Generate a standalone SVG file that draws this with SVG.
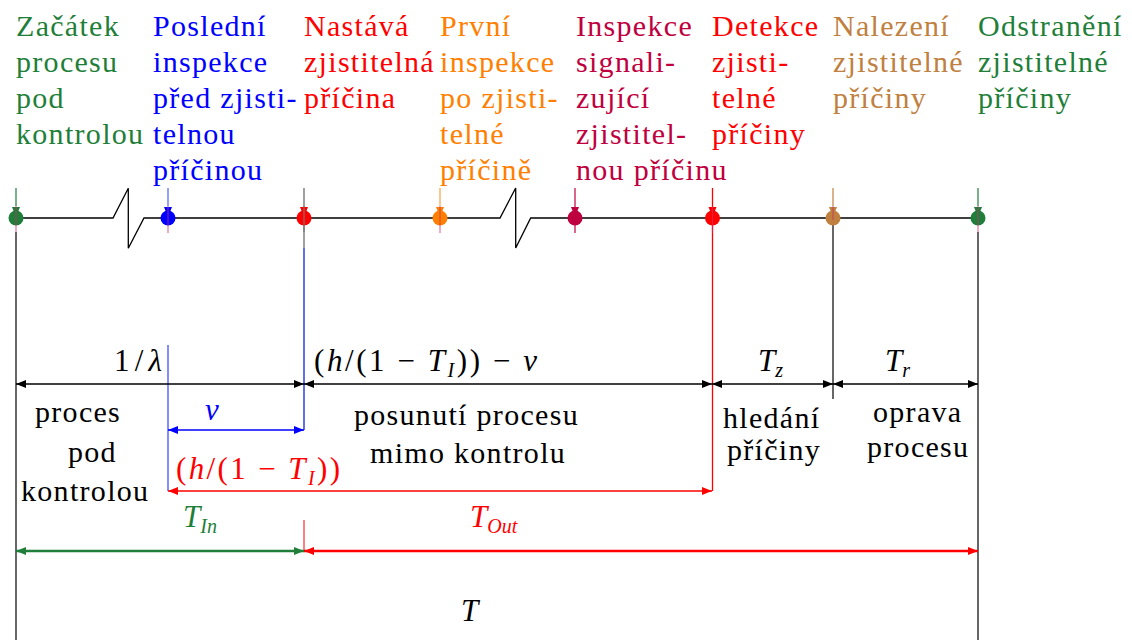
<svg xmlns="http://www.w3.org/2000/svg" width="1132" height="640" viewBox="0 0 1132 640">
<style>
.t{font-family:"Liberation Serif","Times New Roman",serif;font-size:30px;letter-spacing:1.3px}
.m{font-family:"Liberation Serif","Times New Roman",serif;font-size:31px}
.i{font-style:italic}
.sb{font-size:20px;font-style:italic}
.ln{fill:none;stroke-width:1.3}
.pin{stroke:#c8306a;stroke-width:1.2;opacity:0.65}
.green{fill:#1f7f3a}.blue{fill:#0000ff}.red{fill:#ff0000}.orange{fill:#ff8000}.purple{fill:#bf0040}.brown{fill:#bf8040}.black{fill:#000}
</style>
<defs>
<marker id="aK" markerUnits="userSpaceOnUse" markerWidth="11" markerHeight="9" refX="10" refY="4" orient="auto-start-reverse"><path d="M0,0 L10,4 L0,8 Z" fill="#000"/></marker>
<marker id="aB" markerUnits="userSpaceOnUse" markerWidth="11" markerHeight="9" refX="10" refY="4" orient="auto-start-reverse"><path d="M0,0 L10,4 L0,8 Z" fill="#0000ff"/></marker>
<marker id="aR" markerUnits="userSpaceOnUse" markerWidth="11" markerHeight="9" refX="10" refY="4" orient="auto-start-reverse"><path d="M0,0 L10,4 L0,8 Z" fill="#ff0000"/></marker>
<marker id="aG" markerUnits="userSpaceOnUse" markerWidth="11" markerHeight="9" refX="10" refY="4" orient="auto-start-reverse"><path d="M0,0 L10,4 L0,8 Z" fill="#1f7f3a"/></marker>
<g id="dot"><circle cx="0" cy="0" r="7.5"/><path d="M-4,-11 L4,-11 L2,-6 L-2,-6 Z"/></g>
</defs>

<g id="connectors">
  <path class="ln" stroke="#000" d="M16,218 H113 L128.3,188.3 V248.3 L144,218 H500 L515.7,188 V248 L530.7,218 H978"/>
  <line x1="16" y1="232" x2="16" y2="640" stroke="#000" stroke-width="1.2"/>
  <line x1="978" y1="232" x2="978" y2="640" stroke="#000" stroke-width="1.2"/>
  <line x1="833" y1="218" x2="833" y2="399" stroke="#000" stroke-width="1.2"/>
  <line x1="304" y1="188" x2="304" y2="248" stroke="#777" stroke-width="1.4"/>
  <line x1="304" y1="248" x2="304" y2="430" stroke="#2030e0" stroke-width="1.4"/>
  <line x1="168" y1="345" x2="168" y2="491" stroke="#4050ff" stroke-width="1.3"/>
  <line x1="712.5" y1="188" x2="712.5" y2="491" stroke="#ff0000" stroke-width="1.3"/>
  <line x1="304" y1="520" x2="304" y2="551" stroke="#ff0000" stroke-width="1"/>
  <line x1="16" y1="384" x2="304" y2="384" stroke="#000" stroke-width="1.3" marker-start="url(#aK)" marker-end="url(#aK)"/>
  <line x1="304" y1="384" x2="712" y2="384" stroke="#000" stroke-width="1.3" marker-start="url(#aK)" marker-end="url(#aK)"/>
  <line x1="712" y1="384" x2="833" y2="384" stroke="#000" stroke-width="1.3" marker-start="url(#aK)" marker-end="url(#aK)"/>
  <line x1="833" y1="384" x2="978" y2="384" stroke="#000" stroke-width="1.3" marker-start="url(#aK)" marker-end="url(#aK)"/>
  <line x1="168" y1="430" x2="304" y2="430" stroke="#0000ff" stroke-width="1.3" marker-start="url(#aB)" marker-end="url(#aB)"/>
  <line x1="168" y1="491" x2="712" y2="491" stroke="#ff0000" stroke-width="1.3" marker-start="url(#aR)" marker-end="url(#aR)"/>
  <line x1="16" y1="551" x2="304" y2="551" stroke="#1f7f3a" stroke-width="2.4" marker-start="url(#aG)" marker-end="url(#aG)"/>
  <line x1="304" y1="551" x2="978" y2="551" stroke="#ff0000" stroke-width="2.4" marker-start="url(#aR)" marker-end="url(#aR)"/>
  <line x1="16" y1="644" x2="978" y2="644" stroke="#000" stroke-width="1.3" marker-start="url(#aK)" marker-end="url(#aK)"/>
  <text class="m" x="114" y="371" textLength="48"><tspan>1/</tspan><tspan class="i">λ</tspan></text>
  <text class="m" x="314" y="371" textLength="223">(<tspan class="i">h</tspan>/(1 − <tspan class="i">T</tspan><tspan class="sb" dy="6">I</tspan><tspan dy="-6">)) − </tspan><tspan class="i">ν</tspan></text>
  <text class="m" x="758" y="371"><tspan class="i">T</tspan><tspan class="sb" dy="6">z</tspan></text>
  <text class="m" x="885" y="371"><tspan class="i">T</tspan><tspan class="sb" dy="6">r</tspan></text>
  <text class="m blue" x="205" y="420"><tspan class="i">ν</tspan></text>
  <text class="m red" x="176" y="479" textLength="164">(<tspan class="i">h</tspan>/(1 − <tspan class="i">T</tspan><tspan class="sb" dy="6">I</tspan><tspan dy="-6">))</tspan></text>
  <text class="m green" x="183" y="527"><tspan class="i">T</tspan><tspan class="sb" dy="6">In</tspan></text>
  <text class="m red" x="470" y="527"><tspan class="i">T</tspan><tspan class="sb" dy="6">Out</tspan></text>
  <text class="m" x="461" y="621"><tspan class="i">T</tspan></text>
  <text class="t black" x="35" y="422">proces</text>
  <text class="t black" x="68" y="462">pod</text>
  <text class="t black" x="21" y="501">kontrolou</text>
  <text class="t black" x="354" y="425">posunutí procesu</text>
  <text class="t black" x="370" y="463">mimo kontrolu</text>
  <text class="t black" x="723" y="428">hledání</text>
  <text class="t black" x="727" y="460">příčiny</text>
  <text class="t black" x="873" y="422">oprava</text>
  <text class="t black" x="867" y="457">procesu</text>
</g>

<g id="n-start">
  <line x1="16" y1="188" x2="16" y2="206" stroke="#1f7f3a" stroke-width="1.2"/>
  <use href="#dot" x="16" y="218" class="green"/>
  <line class="pin" x1="16" y1="206" x2="16" y2="233"/>
  <text class="t green"><tspan x="16" y="36">Začátek</tspan><tspan x="16" y="72">procesu</tspan><tspan x="16" y="108">pod</tspan><tspan x="16" y="144">kontrolou</tspan></text>
</g>
<g id="n-last-inspection">
  <line x1="168" y1="188" x2="168" y2="206" stroke="#5060ff" stroke-width="1.2"/>
  <use href="#dot" x="168" y="218" class="blue"/>
  <line class="pin" x1="168" y1="206" x2="168" y2="233"/>
  <text class="t blue"><tspan x="153" y="36">Poslední</tspan><tspan x="153" y="72">inspekce</tspan><tspan x="153" y="108">před zjisti-</tspan><tspan x="153" y="144">telnou</tspan><tspan x="153" y="180">příčinou</tspan></text>
</g>
<g id="n-cause">
  <use href="#dot" x="304" y="218" class="red"/>
  <line x1="304" y1="206" x2="304" y2="232" stroke="#777" stroke-width="1.2"/>
  <text class="t red"><tspan x="304" y="36">Nastává</tspan><tspan x="304" y="72">zjistitelná</tspan><tspan x="304" y="108">příčina</tspan></text>
</g>
<g id="n-first-inspection">
  <line x1="440" y1="188" x2="440" y2="206" stroke="#ffa040" stroke-width="1.2"/>
  <use href="#dot" x="440" y="218" class="orange"/>
  <line class="pin" x1="440" y1="206" x2="440" y2="233"/>
  <text class="t orange"><tspan x="440" y="36">První</tspan><tspan x="440" y="72">inspekce</tspan><tspan x="440" y="108">po zjisti-</tspan><tspan x="440" y="144">telné</tspan><tspan x="440" y="180">příčině</tspan></text>
</g>
<g id="n-signal-inspection">
  <line x1="575" y1="188" x2="575" y2="233" stroke="#bf0040" stroke-width="1.2"/>
  <use href="#dot" x="575" y="218" class="purple"/>
  <text class="t purple"><tspan x="576" y="36">Inspekce</tspan><tspan x="576" y="72">signali-</tspan><tspan x="576" y="108">zující</tspan><tspan x="576" y="144">zjistitel-</tspan><tspan x="576" y="180">nou příčinu</tspan></text>
</g>
<g id="n-detection">
  <use href="#dot" x="712.5" y="218" class="red"/>
  <line class="pin" x1="712.5" y1="206" x2="712.5" y2="233"/>
  <text class="t red"><tspan x="712" y="36">Detekce</tspan><tspan x="712" y="72">zjisti-</tspan><tspan x="712" y="108">telné</tspan><tspan x="712" y="144">příčiny</tspan></text>
</g>
<g id="n-found">
  <line x1="833" y1="188" x2="833" y2="206" stroke="#bf8040" stroke-width="1.2"/>
  <use href="#dot" x="833" y="218" class="brown"/>
  <line class="pin" x1="833" y1="206" x2="833" y2="220"/>
  <text class="t brown"><tspan x="833" y="36">Nalezení</tspan><tspan x="833" y="72">zjistitelné</tspan><tspan x="833" y="108">příčiny</tspan></text>
</g>
<g id="n-removed">
  <line x1="978" y1="188" x2="978" y2="206" stroke="#1f7f3a" stroke-width="1.2"/>
  <use href="#dot" x="978" y="218" class="green"/>
  <line class="pin" x1="978" y1="206" x2="978" y2="233"/>
  <text class="t green"><tspan x="978" y="36">Odstranění</tspan><tspan x="978" y="72">zjistitelné</tspan><tspan x="978" y="108">příčiny</tspan></text>
</g>
</svg>
